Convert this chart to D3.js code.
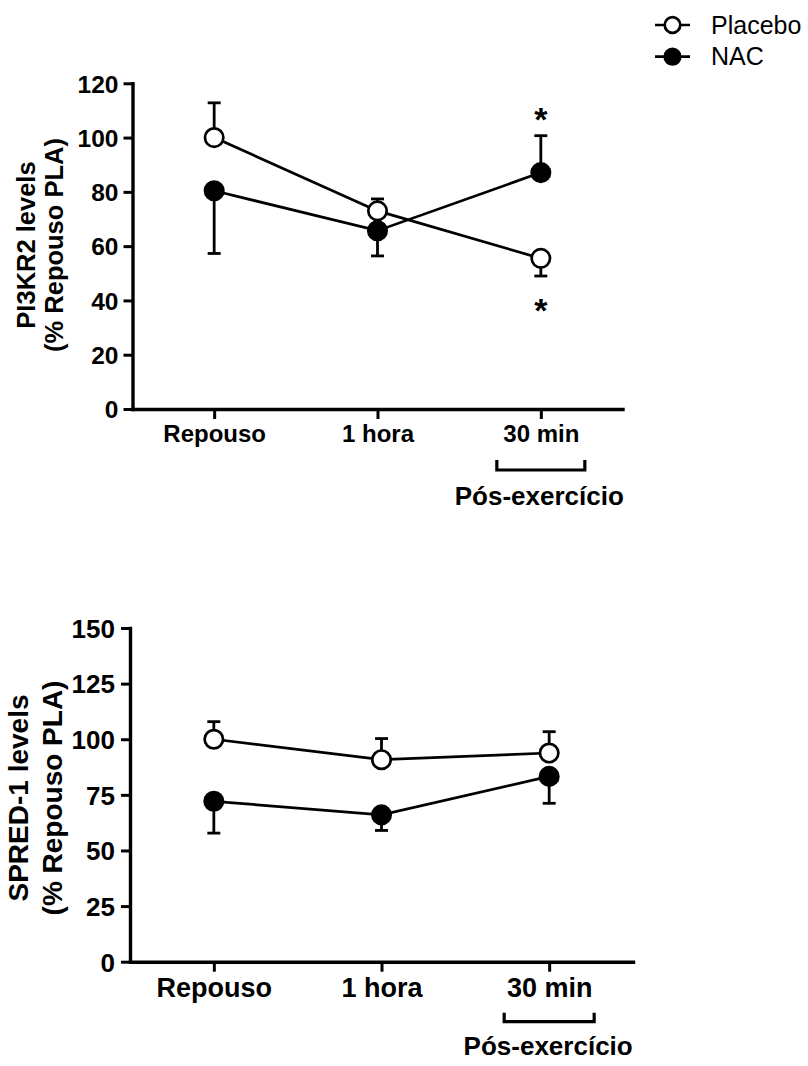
<!DOCTYPE html>
<html><head><meta charset="utf-8">
<script src="https://cdn.jsdelivr.net/npm/d3@7"></script>
<style>
body{margin:0;background:#fff}
text{font-family:"Liberation Sans",Arial,Helvetica,sans-serif;fill:#000}
</style>
</head><body>
<svg id="c" width="808" height="1066"></svg>
<script>
// ---- data ----
const categories = ["Repouso", "1 hora", "30 min"];
const seriesNames = ["Placebo", "NAC"];

const pi3kr2Placebo = [100, 73, 55.5];
const pi3kr2PlaceboErr = [12.8, 4.4, -6.5];   // sign = direction of the one-sided bar
const pi3kr2Nac = [80.4, 65.7, 87.1];
const pi3kr2NacErr = [-23.1, -9.3, 13.6];
const pi3kr2Ticks = [0, 20, 40, 60, 80, 100, 120];
const pi3kr2Stars = [{cat: "30 min", value: 108}, {cat: "30 min", value: 37.5}];

const spred1Placebo = [100, 90.8, 93.8];
const spred1PlaceboErr = [7.9, 9.5, 9.6];
const spred1Nac = [72.1, 66, 83.3];
const spred1NacErr = [-14.3, -7, -12.1];
const spred1Ticks = [0, 25, 50, 75, 100, 125, 150];

const bracketCategory = "30 min";
const bracketLabel = "Pós-exercício";

// ---- drawing ----
const svg = d3.select("#c");

function panel(o) {
  const g = svg.append("g");
  const x = d3.scalePoint(categories, [o.x0, o.x1]).padding(0.5);
  const y = d3.scaleLinear([0, o.ymax], [o.yb, o.yt]);

  // axes
  const ax = g.append("g").attr("transform", `translate(0,${o.yb})`)
    .call(d3.axisBottom(x).tickSize(10).tickSizeOuter(0));
  ax.select(".domain").attr("stroke-width", 3.4).attr("stroke-linecap", "square");
  ax.selectAll(".tick line").attr("stroke-width", 3);
  ax.selectAll(".tick text")
    .attr("y", o.xlabOff).attr("dy", null)
    .attr("font-size", o.tickFs).attr("font-weight", "bold");

  const ay = g.append("g").attr("transform", `translate(${o.x0},0)`)
    .call(d3.axisLeft(y).tickValues(o.ticks).tickSize(9).tickSizeOuter(0));
  ay.select(".domain").attr("stroke-width", 3.4).attr("stroke-linecap", "square");
  ay.selectAll(".tick line").attr("stroke-width", 3);
  ay.selectAll(".tick text")
    .attr("x", -o.ylabOff).attr("dy", "0.36em")
    .attr("font-size", o.ytickFs).attr("font-weight", "bold");
  g.selectAll(".tick text").style("font-family", '"Liberation Sans",Arial,sans-serif').attr("fill", "#000");

  // y title
  o.title.forEach((t, i) => {
    g.append("text")
      .attr("transform", `translate(${o.titleX[i]},${o.titleY}) rotate(-90)`)
      .attr("text-anchor", "middle").attr("font-size", o.titleFs).attr("font-weight", "bold")
      .text(t);
  });

  // series
  const series = [
    {name: seriesNames[0], vals: o.placebo, err: o.placeboErr, fill: "#fff"},
    {name: seriesNames[1], vals: o.nac, err: o.nacErr, fill: "#000"}
  ];
  const line = d3.line().x((d, i) => x(categories[i])).y(d => y(d));
  series.forEach(s => {
    g.append("path").attr("d", line(s.vals)).attr("fill", "none")
      .attr("stroke", "#000").attr("stroke-width", 2.7);
  });
  series.forEach(s => {
    s.vals.forEach((v, i) => {
      const cx = x(categories[i]);
      const ye = y(v + s.err[i]);
      g.append("line").attr("x1", cx).attr("x2", cx).attr("y1", y(v)).attr("y2", ye)
        .attr("stroke", "#000").attr("stroke-width", 2.8);
      g.append("line").attr("x1", cx - 6.5).attr("x2", cx + 6.5).attr("y1", ye).attr("y2", ye)
        .attr("stroke", "#000").attr("stroke-width", 2.8);
    });
  });
  series.forEach(s => {
    g.selectAll(null).data(s.vals).join("circle")
      .attr("cx", (d, i) => x(categories[i])).attr("cy", d => y(d)).attr("r", 9.2)
      .attr("fill", s.fill).attr("stroke", "#000").attr("stroke-width", 2.7);
  });

  // significance stars
  (o.stars || []).forEach(st => {
    g.append("text").attr("x", x(st.cat)).attr("y", y(st.value) + 15)
      .attr("text-anchor", "middle").attr("font-size", 34).attr("font-weight", "bold")
      .text("*");
  });

  // post-exercise bracket
  const bx = x(bracketCategory);
  g.append("path")
    .attr("d", `M${bx - o.bw},${o.bTop}V${o.bBot}H${bx + o.bw}V${o.bTop}`)
    .attr("fill", "none").attr("stroke", "#000").attr("stroke-width", 3.2);
  g.append("text").attr("x", bx + o.pdx).attr("y", o.pY)
    .attr("text-anchor", "middle").attr("font-size", o.pFs).attr("font-weight", "bold")
    .text(bracketLabel);
}

panel({
  x0: 132.5, x1: 622.5, yb: 409, yt: 83.3, ymax: 120, ticks: pi3kr2Ticks,
  tickFs: 24, xlabOff: 33, ytickFs: 24.5, ylabOff: 14,
  title: ["PI3KR2 levels", "(% Repouso PLA)"], titleX: [35, 63], titleY: 245, titleFs: 25.5,
  placebo: pi3kr2Placebo, placeboErr: pi3kr2PlaceboErr, nac: pi3kr2Nac, nacErr: pi3kr2NacErr,
  stars: pi3kr2Stars,
  bw: 44, bTop: 460, bBot: 470, pdx: -1.5, pY: 505, pFs: 26
});

panel({
  x0: 130, x1: 633, yb: 961.7, yt: 628, ymax: 150, ticks: spred1Ticks,
  tickFs: 27, xlabOff: 35, ytickFs: 26, ylabOff: 15,
  title: ["SPRED-1 levels", "(% Repouso PLA)"], titleX: [28, 62], titleY: 798, titleFs: 28,
  placebo: spred1Placebo, placeboErr: spred1PlaceboErr, nac: spred1Nac, nacErr: spred1NacErr,
  stars: [],
  bw: 45, bTop: 1012.7, bBot: 1021.7, pdx: -1, pY: 1055, pFs: 26
});

// legend
const leg = svg.append("g");
seriesNames.forEach((n, i) => {
  const cy = 25 + i * 31.7;
  leg.append("line").attr("x1", 655).attr("x2", 690).attr("y1", cy).attr("y2", cy)
    .attr("stroke", "#000").attr("stroke-width", 2.7);
  leg.append("circle").attr("cx", 672.5).attr("cy", cy).attr("r", 7.8)
    .attr("fill", i === 0 ? "#fff" : "#000").attr("stroke", "#000").attr("stroke-width", 2.7);
  leg.append("text").attr("x", 711).attr("y", cy + 8.5).attr("font-size", 25).text(n);
});
</script>
</body></html>
